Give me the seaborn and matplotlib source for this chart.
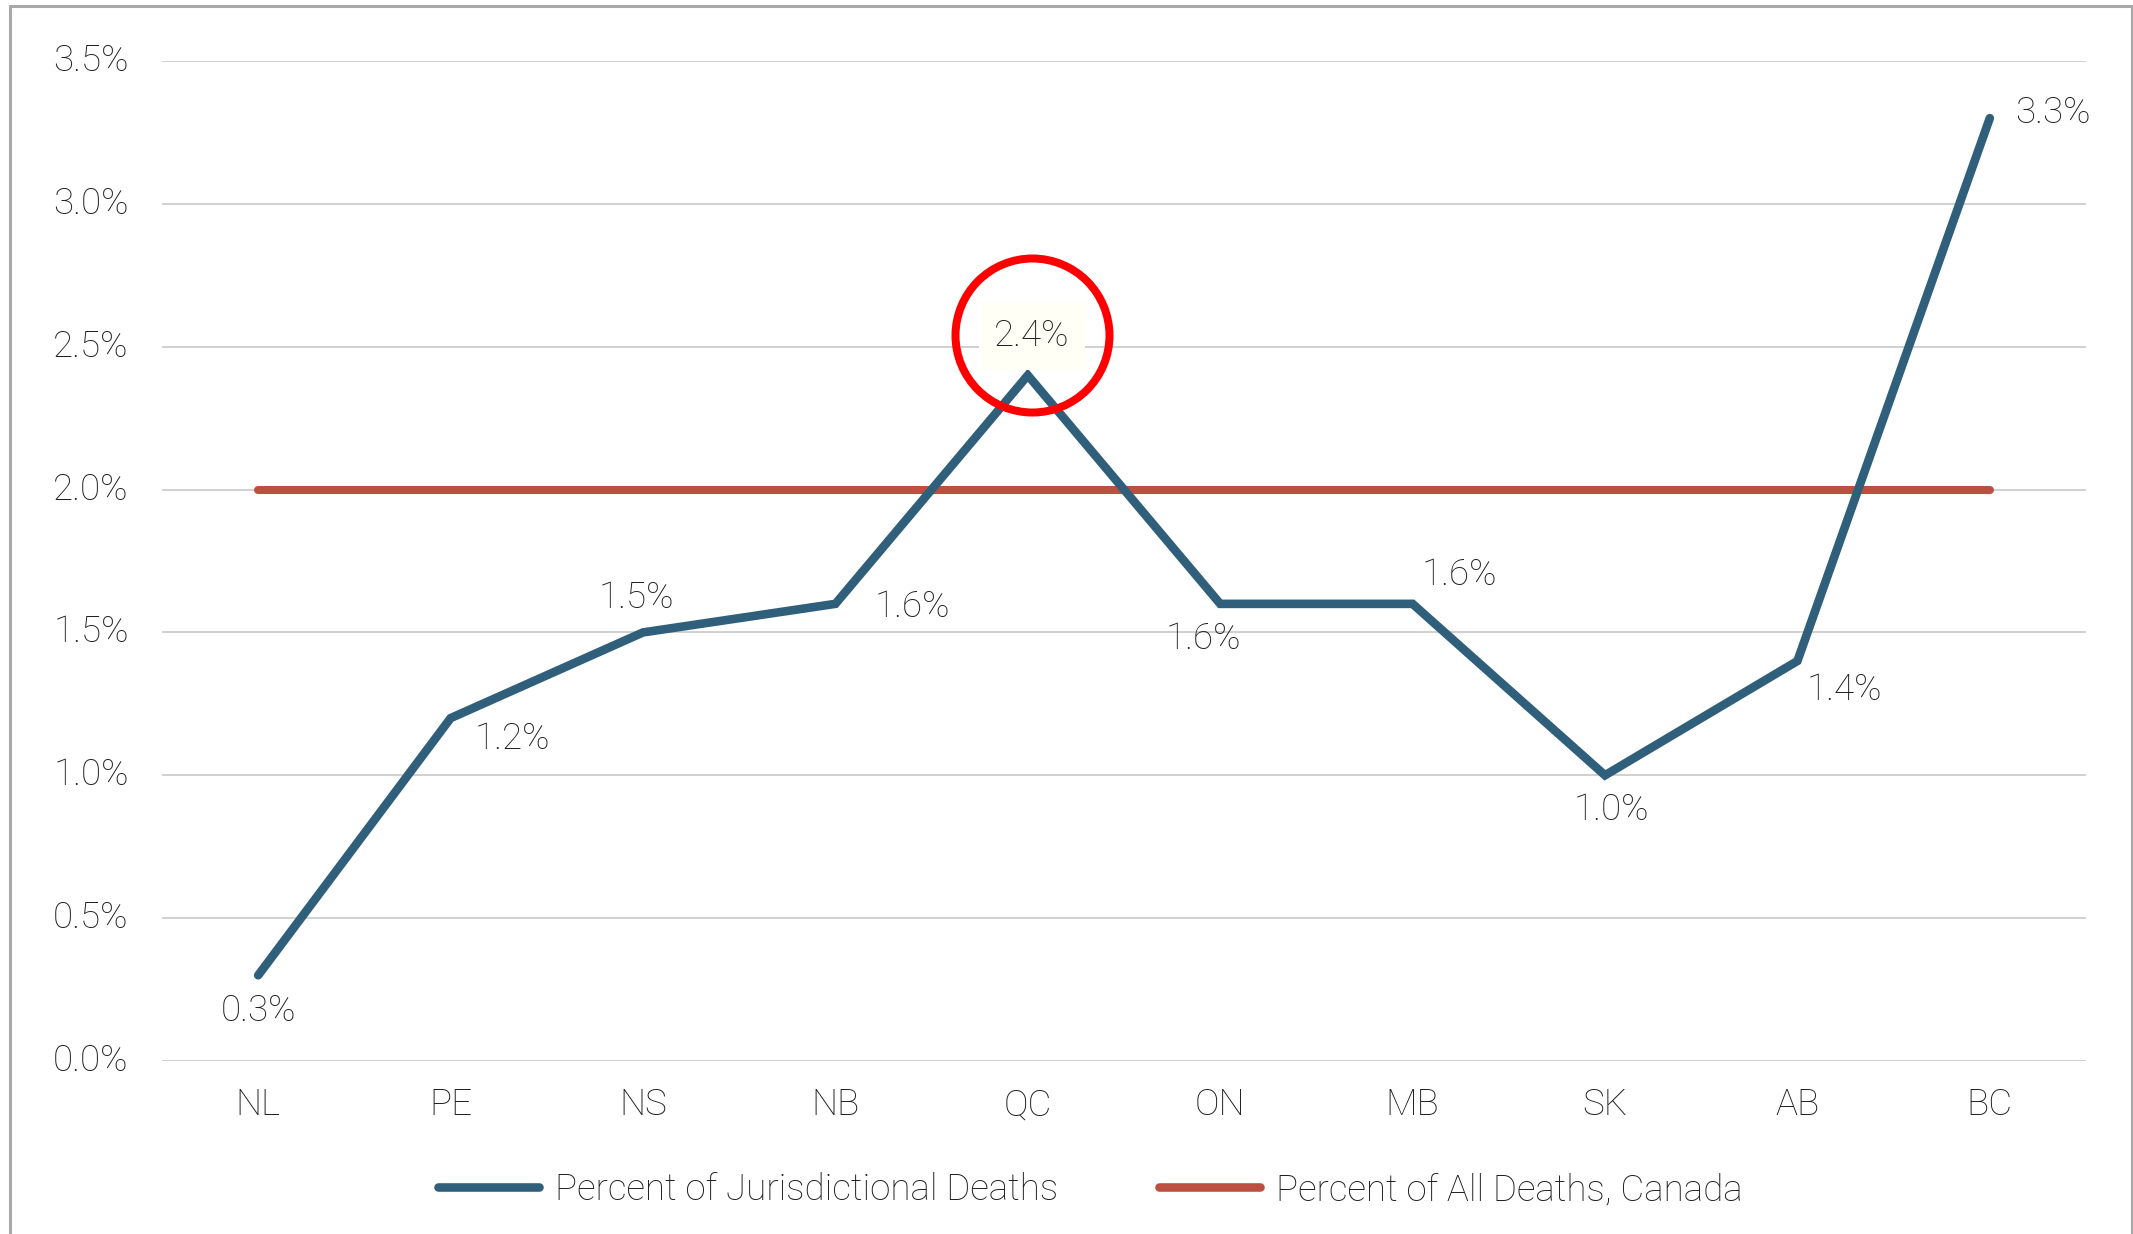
import matplotlib
matplotlib.use("Agg")
import matplotlib.pyplot as plt
from matplotlib.lines import Line2D
from matplotlib.transforms import offset_copy, ScaledTranslation
import seaborn as sns
import pandas as pd

# Data
provinces = ["NL", "PE", "NS", "NB", "QC", "ON", "MB", "SK", "AB", "BC"]
jurisdictional_pct = [0.3, 1.2, 1.5, 1.6, 2.4, 1.6, 1.6, 1.0, 1.4, 3.3]
canada_pct = [2.0] * len(provinces)
series_names = ["Percent of Jurisdictional Deaths", "Percent of All Deaths, Canada"]
y_ticks = [0.0, 0.5, 1.0, 1.5, 2.0, 2.5, 3.0, 3.5]

# Label offsets (pixels) for each value label
label_offsets = [(0, -36), (62, -21), (-7, 34), (77, -3), (4, 39),
                 (-17, -35), (47, 29), (6, -35), (47, -29), (63, 5)]

BLUE = "#2f5f7a"
RED = "#bb4f40"
TEXT = "#1e1e1e"
GRID = "#c8c8c8"
FS = 26.5

sns.set_theme(style="white")
plt.rcParams["font.family"] = ["Roboto", "DejaVu Sans"]
plt.rcParams["font.weight"] = "light"

DPI = 100
fig = plt.figure(figsize=(21.33, 12.34), dpi=DPI)
ax = fig.add_axes([162 / 2133, 1 - 1061 / 1234, (2086 - 162) / 2133, (1061 - 61) / 1234])

df = pd.DataFrame({
    "province": provinces * 2,
    "value": jurisdictional_pct + canada_pct,
    "series": [series_names[0]] * len(provinces) + [series_names[1]] * len(provinces),
})

sns.lineplot(data=df[df.series == series_names[1]], x="province", y="value",
             color=RED, linewidth=5.8, sort=False, ax=ax, legend=False,
             solid_capstyle="round", zorder=3)
sns.lineplot(data=df[df.series == series_names[0]], x="province", y="value",
             color=BLUE, linewidth=6.2, sort=False, ax=ax, legend=False,
             solid_capstyle="round", solid_joinstyle="miter", zorder=4)

ax.set_xlim(-0.5, len(provinces) - 0.5)
ax.set_ylim(0, 3.5)
ax.set_yticks(y_ticks)
ax.set_yticklabels([f"{t:.1f}%" for t in y_ticks])
ax.set_xlabel("")
ax.set_ylabel("")
ax.grid(axis="y", color=GRID, linewidth=1.2, zorder=0)
ax.grid(axis="x", visible=False)
for s in ax.spines.values():
    s.set_visible(False)
ax.tick_params(axis="both", length=0, labelsize=FS, labelcolor=TEXT)
ax.tick_params(axis="x", pad=19)
ax.tick_params(axis="y", pad=24)
for lab in ax.get_xticklabels() + ax.get_yticklabels():
    lab.set_fontweight("light")
# nudge the y tick labels up slightly
lift = ScaledTranslation(0, 4 / DPI, fig.dpi_scale_trans)
for lab in ax.get_yticklabels():
    lab.set_transform(lab.get_transform() + lift)

# Value labels
for i, (v, (dx, dy)) in enumerate(zip(jurisdictional_pct, label_offsets)):
    kw = {}
    if i == 4:
        kw["bbox"] = dict(boxstyle="square,pad=0.42", facecolor="#fffff6", edgecolor="none")
    ax.annotate(f"{v:.1f}%", (i, v), xytext=(dx, dy), textcoords="offset pixels",
                ha="center", va="center", fontsize=FS, color=TEXT,
                fontweight="light", zorder=5, **kw)

# Red highlight ring around the QC label
ring_tr = offset_copy(ax.transData, fig=fig, x=4, y=40, units="dots")
ax.plot([4], [jurisdictional_pct[4]], marker="o", markersize=154 * 0.72,
        markerfacecolor="none", markeredgecolor="#ff0000",
        markeredgewidth=8 * 0.72, transform=ring_tr, zorder=6, clip_on=False)

# Legend
handles = [Line2D([], [], color=BLUE, linewidth=6.2, solid_capstyle="round"),
           Line2D([], [], color=RED, linewidth=6.2, solid_capstyle="round")]
leg = fig.legend(handles, series_names, loc="center", bbox_to_anchor=(1090 / 2133, 1 - 1190 / 1234),
                 ncol=2, frameon=False, fontsize=FS, handlelength=2.75,
                 handletextpad=0.42, columnspacing=2.75)
for t in leg.get_texts():
    t.set_color(TEXT)
    t.set_fontweight("light")

# Outer frame
W, H = 2133, 1234
fx = lambda x: x / W
fy = lambda y: 1 - y / H
frame_kw = dict(color="#a8a8a8", linewidth=2.2, transform=fig.transFigure)
fig.add_artist(Line2D([fx(10), fx(10)], [fy(6), fy(1240)], **frame_kw))
fig.add_artist(Line2D([fx(10), fx(2132)], [fy(6), fy(6)], **frame_kw))
fig.add_artist(Line2D([fx(2132), fx(2132)], [fy(6), fy(1240)], **frame_kw))

fig.savefig("out.png", dpi=DPI)
